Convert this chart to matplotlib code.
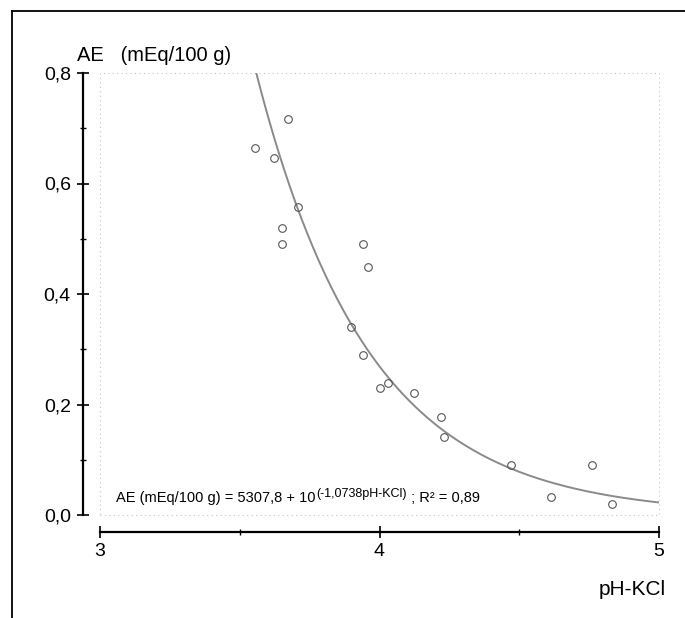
import matplotlib
matplotlib.use('Agg')
import matplotlib.pyplot as plt
import numpy as np
from matplotlib import font_manager
from matplotlib.lines import Line2D
from matplotlib.patches import Rectangle

# measured points (pH-KCl vs AE)
ph = [3.554, 3.673, 3.623, 3.708, 3.652, 3.652, 3.941, 3.959, 3.899, 3.940,
      4.003, 4.030, 4.125, 4.220, 4.232, 4.470, 4.762, 4.613, 4.833]
ae = [0.665, 0.717, 0.647, 0.557, 0.519, 0.490, 0.490, 0.448, 0.341, 0.290,
      0.229, 0.239, 0.220, 0.178, 0.142, 0.090, 0.090, 0.033, 0.020]

# fitted curve printed on the chart: AE = 5307,8 * 10^(-1,0738 pH)
fit_a = 5307.8
fit_b = -1.0738

xticks = [3, 4, 5]
xtick_labels = ['3', '4', '5']
yticks = [0.0, 0.2, 0.4, 0.6, 0.8]
ytick_labels = ['0,0', '0,2', '0,4', '0,6', '0,8']

plt.rcParams['font.family'] = ['Liberation Sans', 'DejaVu Sans']
names = {f.name for f in font_manager.fontManager.ttflist}
narrow = 'Liberation Sans Narrow' if 'Liberation Sans Narrow' in names else 'Liberation Sans'
eq_size = 12 if narrow == 'Liberation Sans Narrow' else 10.5

fig = plt.figure(figsize=(6.85, 6.18), dpi=100)
ax = fig.add_axes([100/685, 103/618, 559/685, 442/618])
ax.set_xlim(3, 5)
ax.set_ylim(0, 0.8)

for s in ['top', 'right']:
    ax.spines[s].set_visible(False)
for s in ['left', 'bottom']:
    ax.spines[s].set_position(('outward', 12))
    ax.spines[s].set_linewidth(1.6)

ax.set_xticks(xticks)
ax.set_xticklabels(xtick_labels)
ax.set_xticks([3.5, 4.5], minor=True)
ax.set_yticks(yticks)
ax.set_yticklabels(ytick_labels)
ax.set_yticks([0.1, 0.3, 0.5, 0.7], minor=True)
ax.tick_params(which='major', direction='inout', length=8, width=1.2, labelsize=14)
ax.tick_params(which='minor', direction='inout', length=5, width=1.0)
ax.tick_params(axis='x', which='major', pad=4)
ax.tick_params(axis='y', which='major', pad=5)

# faint dotted box of the plot area
ax.add_patch(Rectangle((0, 0), 1, 1, transform=ax.transAxes, fill=False,
                       ls=(0, (1, 3)), lw=0.8, ec='#c4c4c4', clip_on=False))

x_fit = np.linspace(3.4, 5, 300)
ax.plot(x_fit, fit_a * 10 ** (fit_b * x_fit), color='#8a8a8a', lw=1.4)
ax.plot(ph, ae, 'o', ms=5.5, mfc='none', mec='#555555', mew=0.8, clip_on=False)

# equation, with the exponent raised above the baseline
eq_x, eq_y = 3.057, 0.0235
t1 = ax.text(eq_x, eq_y, 'AE (mEq/100 g) = 5307,8 + 10', family=narrow,
             fontsize=eq_size, va='baseline')
t2 = ax.annotate('(-1,0738pH-KCl)', xy=(1, eq_y), xycoords=(t1, 'data'),
                 xytext=(0.5, 3.8), textcoords='offset points', va='baseline',
                 fontsize=9)
t3 = ax.annotate(' ; R\u00b2 = 0,89', xy=(1, eq_y), xycoords=(t2, 'data'),
                 family=narrow, fontsize=eq_size, va='baseline')

fig.text(77/685, 1 - 61/618, 'AE   (mEq/100 g)', fontsize=14.5, va='baseline')
fig.text(666/685, 1 - 595/618, 'pH-KCl', fontsize=15, ha='right', va='baseline')

# scan frame on left and top
fig.add_artist(Line2D([12/685, 12/685], [0, 1 - 11/618], color='black', lw=1.3))
fig.add_artist(Line2D([12/685, 1], [1 - 11/618, 1 - 11/618], color='black', lw=1.3))

fig.savefig('out.png', dpi=100)
